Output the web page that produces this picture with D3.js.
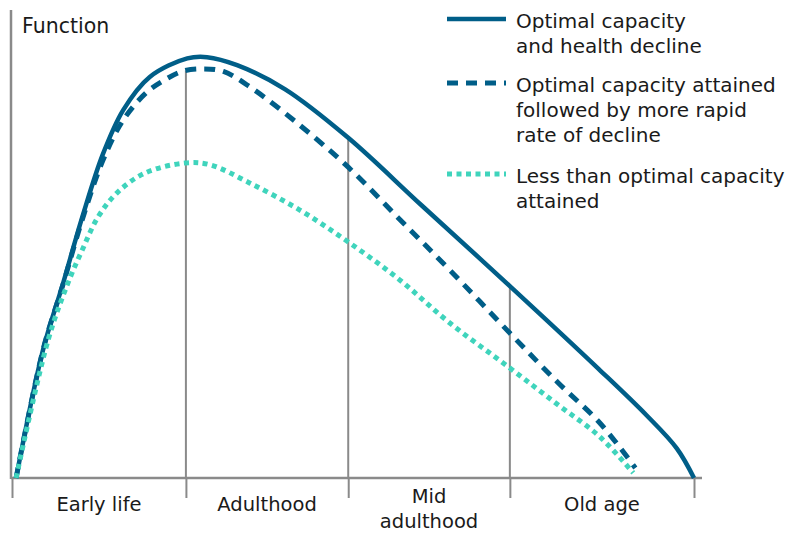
<!DOCTYPE html>
<html><head><meta charset="utf-8">
<script src="https://cdn.jsdelivr.net/npm/d3@7"></script>
<style>
html,body{margin:0;padding:0;background:#fff;}
svg text{font-family:"DejaVu Sans",Verdana,sans-serif;fill:#1a1a1a;}
</style></head>
<body><svg id="chart" width="787" height="534"></svg>
<script>
// ---- data (x = position along the life course 0..100, y = function 0..100) ----
const stageBounds = [0, 25.5, 49.3, 73.0, 100];
const stageLabels = [["Early life"], ["Adulthood"], ["Mid", "adulthood"], ["Old age"]];
const dividerTops = [97.0, 81.0, 46.0];

const optimalX = [0.6, 4.55, 7.5, 10.3, 13.3, 16.3, 20.2, 25.7, 28.6, 33, 40, 49.3, 60, 73, 86, 93, 97.5, 100];
const optimalY = [0, 30.5, 46.4, 62.1, 77, 87.6, 95.5, 99.9, 100.2, 98.3, 92.6, 81, 65, 45.7, 26, 15, 7, 0];

const rapidX = [0.6, 4.55, 7.5, 10.3, 13.3, 16.3, 19.8, 22.4, 25.1, 28, 31, 35, 42.2, 49.3, 56.9, 64.2, 73, 80, 86.2, 91.4];
const rapidY = [0, 30.5, 46.2, 61.5, 75.5, 85.2, 91.9, 94.8, 96.9, 97.4, 96.8, 93, 84, 74, 61.5, 49.5, 34.5, 22.8, 13.1, 2.4];

const lessX = [0.6, 5.3, 8.2, 10.3, 12.6, 15.4, 19.5, 25.4, 29, 34.9, 42.2, 49.3, 56.9, 64.2, 73, 80, 86.2, 91.1];
const lessY = [0, 32.9, 46.4, 54.3, 62.1, 67.9, 72.6, 75, 74.6, 70.2, 63.8, 56.2, 47.1, 36.9, 26.2, 17.5, 9.8, 1.2];

const legendLabels = [
  ["Optimal capacity", "and health decline"],
  ["Optimal capacity attained", "followed by more rapid", "rate of decline"],
  ["Less than optimal capacity", "attained"]
];

// ---- drawing ----
const svg = d3.select("#chart");
const x = d3.scaleLinear().domain([0, 100]).range([12, 694]);
const y = d3.scaleLinear().domain([0, 100]).range([478, 58]);

const dark = "#005e88", teal = "#3fd4bc", axisCol = "#8a8a8a";

const series = [
  {xs: optimalX, ys: optimalY, color: dark, width: 4.5, dash: null},
  {xs: rapidX, ys: rapidY, color: dark, width: 5, dash: "11,8"},
  {xs: lessX, ys: lessY, color: teal, width: 5, dash: "5,4.5"}
];

// dividers
svg.selectAll("line.div").data(dividerTops).enter().append("line")
  .attr("x1", (d, i) => x(stageBounds[i + 1])).attr("x2", (d, i) => x(stageBounds[i + 1]))
  .attr("y1", d => y(d)).attr("y2", y(0))
  .attr("stroke", axisCol).attr("stroke-width", 2);

// axes
svg.append("line").attr("x1", 11).attr("x2", 11).attr("y1", 10).attr("y2", y(0) + 1)
  .attr("stroke", axisCol).attr("stroke-width", 2.5);
const xAxis = d3.axisBottom(x).tickValues(stageBounds).tickSize(20).tickFormat("");
const gx = svg.append("g").attr("transform", `translate(0,${y(0)})`).call(xAxis);
gx.select(".domain").attr("d", `M11,0H702`).attr("stroke", axisCol).attr("stroke-width", 2.5);
gx.selectAll(".tick line").attr("stroke", axisCol).attr("stroke-width", 2);

// stage labels
stageLabels.forEach((lines, i) => {
  const cx = (x(stageBounds[i]) + x(stageBounds[i + 1])) / 2;
  const base = lines.length > 1 ? 503 : 511;
  lines.forEach((t, j) => {
    svg.append("text").attr("x", cx).attr("y", base + j * 25)
      .attr("text-anchor", "middle").attr("font-size", 19.5).text(t);
  });
});

svg.append("text").attr("x", 22).attr("y", 33).attr("font-size", 20.5).text("Function");

// curves
const line = d3.line().x(d => x(d[0])).y(d => y(d[1])).curve(d3.curveCatmullRom.alpha(0.5));
series.forEach(s => {
  const pts = s.xs.map((v, i) => [v, s.ys[i]]);
  const p = svg.append("path").attr("d", line(pts)).attr("fill", "none")
    .attr("stroke", s.color).attr("stroke-width", s.width).attr("stroke-linejoin", "round");
  if (s.dash) p.attr("stroke-dasharray", s.dash);
});

// legend
const legendTops = [28, 92, 183];
legendLabels.forEach((lines, i) => {
  const s = series[i];
  const ly = legendTops[i] - 9;
  svg.append("line").attr("x1", 447).attr("x2", 506).attr("y1", ly).attr("y2", ly)
    .attr("stroke", s.color).attr("stroke-width", s.width)
    .attr("stroke-dasharray", s.dash);
  lines.forEach((t, j) => {
    svg.append("text").attr("x", 516).attr("y", legendTops[i] + j * 25)
      .attr("font-size", 20).text(t);
  });
});
</script></body></html>
